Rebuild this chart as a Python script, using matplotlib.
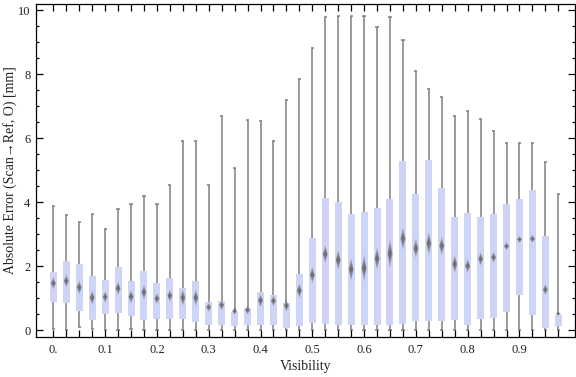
import matplotlib
matplotlib.use("Agg")
import matplotlib.pyplot as plt
from matplotlib.patches import Polygon, Rectangle
from matplotlib.ticker import MultipleLocator

# ---- data ----
visibility_labels = ["0.", "0.1", "0.2", "0.3", "0.4", "0.5", "0.6", "0.7", "0.8", "0.9"]
n_bins = 40  # bins of 0.025 visibility

whisker_min = [0.03, 0.0, 0.09, 0.05, 0.0, 0.0, 0.05, 0.0, 0.0, 0.0,
               0.0, 0.0, 0.0, 0.0, 0.0, 0.0, 0.0, 0.0, 0.0, 0.0,
               0.0, 0.0, 0.0, 0.0, 0.0, 0.0, 0.0, 0.0, 0.0, 0.0,
               0.0, 0.0, 0.0, 0.0, 0.0, 0.0, 0.0, 0.0, 0.0, 0.0]
q1 = [0.89, 0.86, 0.60, 0.33, 0.50, 0.54, 0.46, 0.33, 0.34, 0.36,
      0.34, 0.25, 0.17, 0.17, 0.13, 0.17, 0.17, 0.17, 0.08, 0.14,
      0.23, 0.21, 0.18, 0.18, 0.18, 0.18, 0.18, 0.21, 0.30, 0.30,
      0.29, 0.32, 0.18, 0.35, 0.39, 0.57, 1.10, 0.48, 0.08, 0.14]
median = [1.47, 1.54, 1.34, 1.02, 1.04, 1.31, 1.05, 1.19, 0.99, 1.08,
          1.02, 1.02, 0.72, 0.79, 0.60, 0.63, 0.93, 0.92, 0.77, 1.24,
          1.73, 2.38, 2.20, 1.90, 1.94, 2.24, 2.40, 2.87, 2.56, 2.72,
          2.64, 2.07, 2.01, 2.23, 2.28, 2.63, 2.84, 2.86, 1.27, 0.52]
q3 = [1.81, 2.17, 2.07, 1.69, 1.57, 1.98, 1.53, 1.84, 1.48, 1.63,
      1.32, 1.54, 0.88, 0.92, 0.58, 0.70, 1.20, 1.10, 0.85, 1.75,
      2.90, 4.13, 4.00, 3.63, 3.70, 3.82, 4.10, 5.28, 4.26, 5.31,
      4.45, 3.53, 3.67, 3.53, 3.62, 3.95, 4.09, 4.37, 2.94, 0.48]
whisker_max = [3.88, 3.59, 3.38, 3.62, 3.16, 3.78, 3.96, 4.19, 3.94, 4.54,
               5.91, 5.91, 4.53, 6.69, 5.06, 6.56, 6.53, 5.91, 7.20, 7.87,
               8.81, 9.78, 9.84, 9.81, 9.81, 9.47, 9.78, 9.09, 8.12, 7.53,
               7.28, 6.69, 6.84, 6.59, 6.22, 5.87, 5.84, 5.84, 5.25, 4.25]
median_ci = [0.20, 0.20, 0.22, 0.23, 0.18, 0.21, 0.21, 0.23, 0.17, 0.19,
             0.26, 0.26, 0.14, 0.16, 0.12, 0.14, 0.21, 0.17, 0.18, 0.23,
             0.26, 0.29, 0.32, 0.36, 0.42, 0.36, 0.47, 0.36, 0.31, 0.36,
             0.29, 0.29, 0.22, 0.21, 0.18, 0.13, 0.11, 0.13, 0.17, 0.06]

# ---- styling ----
serif = ["Liberation Serif", "DejaVu Serif"]
plt.rcParams["font.family"] = serif
box_color = "#cdd4f5"
whisker_color = "#808080"
diamond_color = "#666666"

fig = plt.figure(figsize=(5.76, 3.77), dpi=100)
ax = fig.add_axes([36 / 576, 40 / 377, 539 / 576, 333 / 377])

box_w = 0.54
cap_w = 0.25
dia_w = 0.38

for i in range(n_bins):
    x = i
    # whisker
    ax.plot([x, x], [whisker_min[i], whisker_max[i]], color=whisker_color, lw=1.1,
            solid_capstyle="butt", zorder=1)
    for yv in (whisker_min[i], whisker_max[i]):
        ax.plot([x - cap_w / 2, x + cap_w / 2], [yv, yv], color=whisker_color,
                lw=1.1, solid_capstyle="butt", zorder=1)
    # box
    ax.add_patch(Rectangle((x - box_w / 2, q1[i]), box_w, q3[i] - q1[i],
                           facecolor=box_color, edgecolor="none", zorder=2))
    # median diamond (soft edged)
    h = median_ci[i]
    m = median[i]
    for scale, a in ((1.0, 0.35), (0.75, 0.4), (0.5, 0.5), (0.3, 0.6)):
        hw = dia_w / 2 * min(1.0, scale + 0.3)
        hh = h * scale
        ax.add_patch(Polygon([(x - hw, m), (x, m + hh), (x + hw, m), (x, m - hh)],
                             closed=True, facecolor=diamond_color, edgecolor="none",
                             alpha=a, zorder=3))

ax.set_xlim(-1.34, 40.29)
ax.set_ylim(-0.21, 10.2)

ax.set_xticks(range(n_bins), minor=True)
ax.set_xticks(range(0, n_bins, 4))
ax.set_xticklabels(visibility_labels)
ax.yaxis.set_major_locator(MultipleLocator(2))
ax.yaxis.set_minor_locator(MultipleLocator(0.5))
ax.tick_params(axis="both", which="both", direction="in", top=True, right=True,
               width=0.9, color="black", labelsize=9, labelcolor="#222222")
ax.tick_params(axis="x", which="major", length=5, pad=5)
ax.tick_params(axis="x", which="minor", length=5)
ax.tick_params(axis="y", which="major", length=5, pad=4)
ax.tick_params(axis="y", which="minor", length=2.5)
for s in ax.spines.values():
    s.set_linewidth(0.9)
    s.set_color("black")

ax.set_xlabel("Visibility", fontsize=10, labelpad=3, color="#222222")
ax.set_ylabel("Absolute Error (Scan\u2192Ref, O) [mm]", fontsize=10, labelpad=1,
              color="#222222")

fig.savefig("out.png", dpi=100)
